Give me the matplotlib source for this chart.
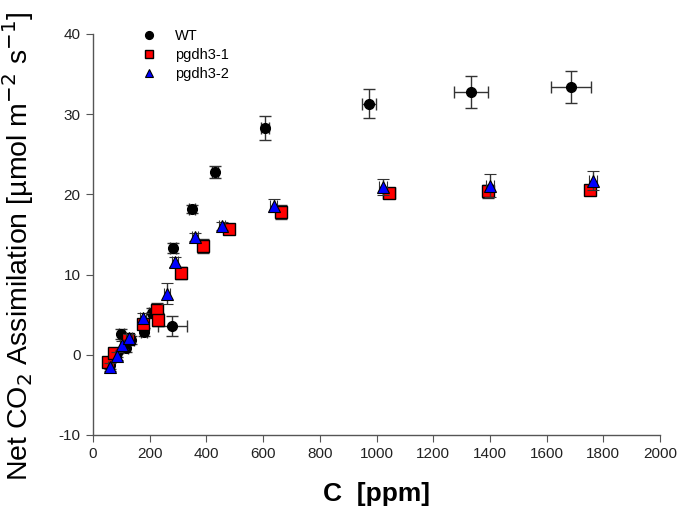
import matplotlib
matplotlib.use("Agg")
import matplotlib.pyplot as plt

plt.rcParams['font.family'] = ['Liberation Sans', 'DejaVu Sans']
plt.rcParams['axes.unicode_minus'] = False

# WT
wt_x = [60, 85, 100, 115, 135, 180, 208, 280, 282, 349, 430, 607, 974, 1333, 1686]
wt_y = [-1.3, 0.2, 2.6, 0.9, 1.8, 2.8, 5.2, 3.6, 13.3, 18.2, 22.8, 28.3, 31.3, 32.8, 33.4]
wt_xerr = [8, 8, 8, 8, 10, 10, 12, 50, 10, 10, 12, 15, 25, 60, 70]
wt_yerr = [0.5, 0.5, 0.6, 0.5, 0.5, 0.5, 0.6, 1.2, 0.6, 0.5, 0.8, 1.5, 1.8, 2.0, 2.0]

# pgdh3-1
p1_x = [53, 74, 123, 176, 226, 228, 310, 388, 480, 663, 1044, 1393, 1753]
p1_y = [-0.9, 0.2, 2.0, 3.8, 5.6, 4.4, 10.2, 13.6, 15.7, 17.8, 20.2, 20.4, 20.6]
p1_xerr = [8, 8, 10, 10, 12, 12, 10, 12, 15, 15, 20, 15, 15]
p1_yerr = [0.5, 0.5, 0.5, 0.6, 0.8, 0.8, 0.8, 0.9, 0.6, 0.9, 0.6, 0.8, 0.6]

# pgdh3-2
p2_x = [60, 85, 102, 127, 176, 261, 289, 360, 455, 638, 1023, 1400, 1764]
p2_y = [-1.5, -0.2, 1.2, 2.1, 4.6, 7.6, 11.6, 14.7, 16.0, 18.6, 20.9, 21.1, 21.7]
p2_xerr = [8, 8, 8, 10, 10, 10, 10, 10, 12, 12, 15, 15, 15]
p2_yerr = [0.5, 0.5, 0.5, 0.5, 0.6, 1.3, 0.6, 0.5, 0.5, 0.8, 1.0, 1.4, 1.2]

xticks = list(range(0, 2001, 200))
yticks = list(range(-10, 41, 10))

fig = plt.figure(figsize=(6.89, 5.16), dpi=100)
ax = fig.add_axes([93/689, 81/516, 567/689, 401/516])

ecol = '#333333'
ax.errorbar(wt_x, wt_y, xerr=wt_xerr, yerr=wt_yerr, fmt='o', color='black',
            mfc='black', mec='black', ms=7, ecolor=ecol, elinewidth=1, capsize=4,
            label='WT', zorder=3)
ax.errorbar(p1_x, p1_y, xerr=p1_xerr, yerr=p1_yerr, fmt='s', color='red',
            mfc='red', mec='black', mew=1, ms=8, ecolor=ecol, elinewidth=1, capsize=4,
            label='pgdh3-1', zorder=4)
ax.errorbar(p2_x, p2_y, xerr=p2_xerr, yerr=p2_yerr, fmt='^', color='blue',
            mfc='blue', mec='black', mew=0.8, ms=8, ecolor=ecol, elinewidth=1, capsize=4,
            label='pgdh3-2', zorder=5)

ax.set_xlim(0, 2000)
ax.set_ylim(-10, 40)
ax.set_xticks(xticks)
ax.set_yticks(yticks)
for s in ['top', 'right']:
    ax.spines[s].set_visible(False)
for s in ['left', 'bottom']:
    ax.spines[s].set_color('#555555')
    ax.spines[s].set_linewidth(1)
ax.tick_params(direction='out', length=5, colors='#555555', labelcolor='#222222',
               labelsize=11, pad=4)

handles, labels = ax.get_legend_handles_labels()
leg = ax.legend([h[0] for h in handles], labels, loc='upper left',
                bbox_to_anchor=(0.06, 1.045), frameon=False, fontsize=10.5,
                handletextpad=1.2, labelspacing=0.35, handlelength=1.2,
                markerscale=0.8)

ax.set_xlabel('C  [ppm]', fontsize=19, fontweight='bold', labelpad=15)
fig.text(0.026, 0.522, 'Net CO$_2$ Assimilation [µmol m$^{-2}$ s$^{-1}$]',
         rotation=90, fontsize=20.5, ha='center', va='center')

fig.savefig('out.png', dpi=100)
